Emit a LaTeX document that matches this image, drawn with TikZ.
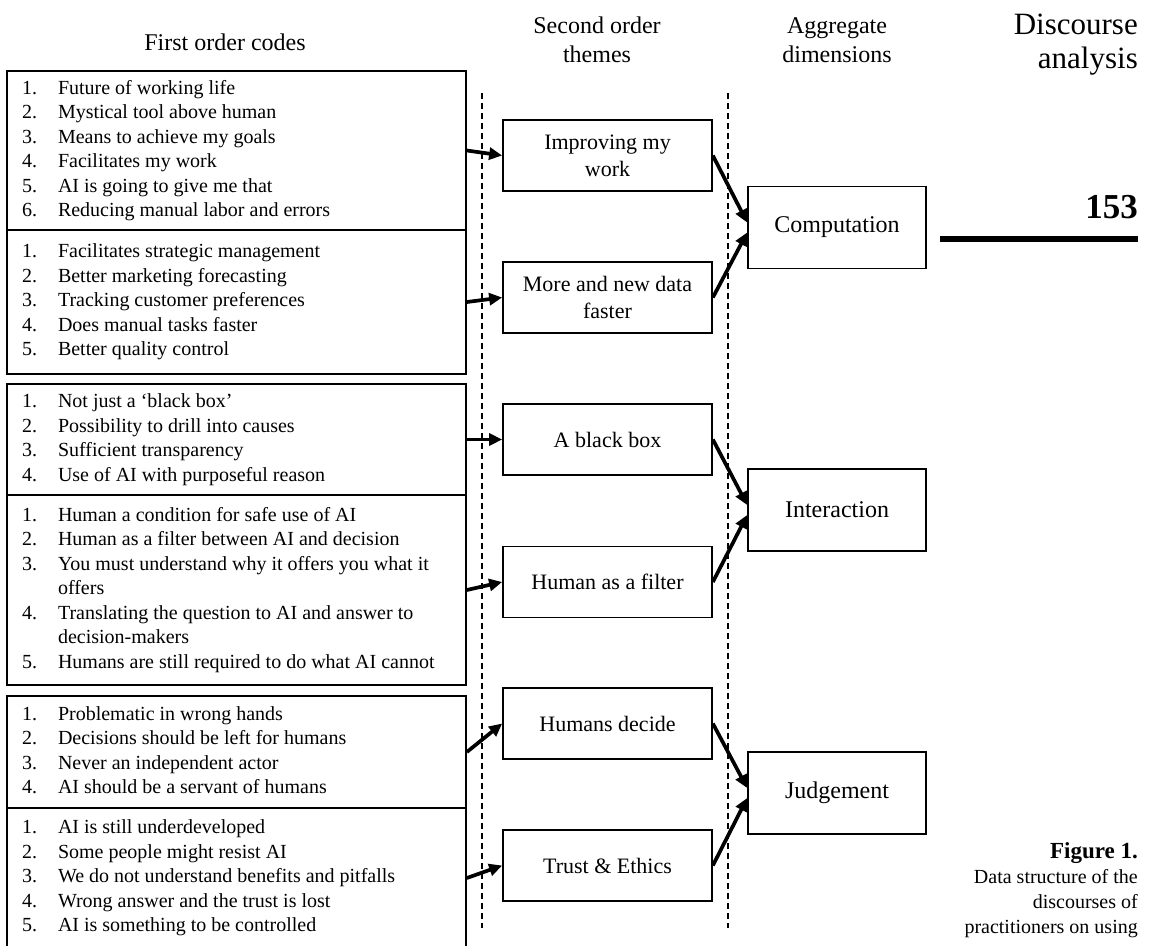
\documentclass[tikz,border=0pt]{standalone}
\usepackage{fontspec}
\setmainfont{Liberation Serif}
\usetikzlibrary{arrows.meta}

\newcommand{\codelist}[1]{\begin{tabular}{@{}p{36pt}@{}p{393pt}@{}}#1\end{tabular}}

\tikzset{
  codebox/.style={draw, line width=1.7pt, inner xsep=15pt, inner ysep=0pt, font=\fontsize{20}{24.5}\selectfont},
  themebox/.style={draw, line width=1.7pt, minimum width=209pt, minimum height=71pt, inner sep=0pt, align=center, font=\fontsize{22}{27}\selectfont},
  dimbox/.style={draw, line width=1.7pt, minimum width=178pt, minimum height=82pt, inner sep=0pt, font=\fontsize{24}{29}\selectfont},
  head/.style={inner sep=0pt, align=center, font=\fontsize{24}{29}\selectfont},
  conn/.style={-{Triangle[length=13pt,width=12pt]}, line width=3.7pt},
  divider/.style={line width=1.4pt, dash pattern=on 6pt off 4pt}
}

\begin{document}
\begin{tikzpicture}[x=1pt, y=-1pt]
  \useasboundingbox (0,0) rectangle (1150,945);
  \clip (0,0) rectangle (1150,945);

  \node[head, anchor=base] (h1) at (225,50) {First order codes};
  \node[head, anchor=north] (h2) at (597,17) {Second order\\themes};
  \node[head, anchor=north] (h3) at (837,17) {Aggregate\\dimensions};
  \node[inner sep=0pt, anchor=north east, align=right, font=\fontsize{31}{34}\selectfont] (title) at (1138,14) {Discourse\\analysis};
  \node[inner sep=0pt, anchor=base east, font=\fontsize{35}{38}\selectfont\bfseries] (page) at (1138,218) {153};
  \draw[line width=6pt] (940,239) -- (1138,239);

  \draw[divider] (482,93) -- (482,928);
  \draw[divider] (728,93) -- (728,928);

  \node[codebox, minimum height=159pt] (c1) at (236.5,150.5) {\codelist{
    1. & Future of working life\\
    2. & Mystical tool above human\\
    3. & Means to achieve my goals\\
    4. & Facilitates my work\\
    5. & AI is going to give me that\\
    6. & Reducing manual labor and errors}};
  \node[codebox, minimum height=144pt] (c2) at (236.5,302) {\codelist{
    1. & Facilitates strategic management\\
    2. & Better marketing forecasting\\
    3. & Tracking customer preferences\\
    4. & Does manual tasks faster\\
    5. & Better quality control}};
  \node[codebox, minimum height=111pt] (c3) at (236.5,439.5) {\codelist{
    1. & Not just a `black box'\\
    2. & Possibility to drill into causes\\
    3. & Sufficient transparency\\
    4. & Use of AI with purposeful reason}};
  \node[codebox, minimum height=190pt] (c4) at (236.5,590) {\codelist{
    1. & Human a condition for safe use of AI\\
    2. & Human as a filter between AI and decision\\
    3. & You must understand why it offers you what it\\
       & offers\\
    4. & Translating the question to AI and answer to\\
       & decision-makers\\
    5. & Humans are still required to do what AI cannot}};
  \node[codebox, minimum height=112pt] (c5) at (236.5,752) {\codelist{
    1. & Problematic in wrong hands\\
    2. & Decisions should be left for humans\\
    3. & Never an independent actor\\
    4. & AI should be a servant of humans}};
  \node[codebox, minimum height=140pt] (c6) at (236.5,878) {\codelist{
    1. & AI is still underdeveloped\\
    2. & Some people might resist AI\\
    3. & We do not understand benefits and pitfalls\\
    4. & Wrong answer and the trust is lost\\
    5. & AI is something to be controlled}};

  \node[themebox] (work) at (607.5,155.5) {Improving my\\work};
  \node[themebox] (data) at (607.5,297.5) {More and new data\\faster};
  \node[themebox] (black) at (607.5,439.5) {A black box};
  \node[themebox] (filter) at (607.5,582) {Human as a filter};
  \node[themebox] (decide) at (607.5,723.5) {Humans decide};
  \node[themebox] (trust) at (607.5,865.5) {Trust \& Ethics};

  \node[dimbox] (comp) at (837,227.5) {Computation};
  \node[dimbox] (inter) at (837,510) {Interaction};
  \node[dimbox] (judge) at (837,793) {Judgement};

  \draw[conn] (c1.east) -- (work.west);
  \draw[conn] (c2.east) -- (data.west);
  \draw[conn] (c3.east) -- (black.west);
  \draw[conn] (c4.east) -- (filter.west);
  \draw[conn] (c5.east) -- (decide.west);
  \draw[conn] (c6.east) -- (trust.west);

  \draw[conn] (work.east) -- ([yshift=5pt]comp.west);
  \draw[conn] (data.east) -- ([yshift=-5pt]comp.west);
  \draw[conn] (black.east) -- ([yshift=5pt]inter.west);
  \draw[conn] (filter.east) -- ([yshift=-5pt]inter.west);
  \draw[conn] (decide.east) -- ([yshift=5pt]judge.west);
  \draw[conn] (trust.east) -- ([yshift=-5pt]judge.west);

  \node[inner sep=0pt, anchor=north east, align=right, font=\fontsize{20}{25}\selectfont] (caption) at (1138,842) {{\fontsize{23}{25}\selectfont\bfseries Figure 1.}\\Data structure of the\\discourses of\\practitioners on using};
\end{tikzpicture}
\end{document}
